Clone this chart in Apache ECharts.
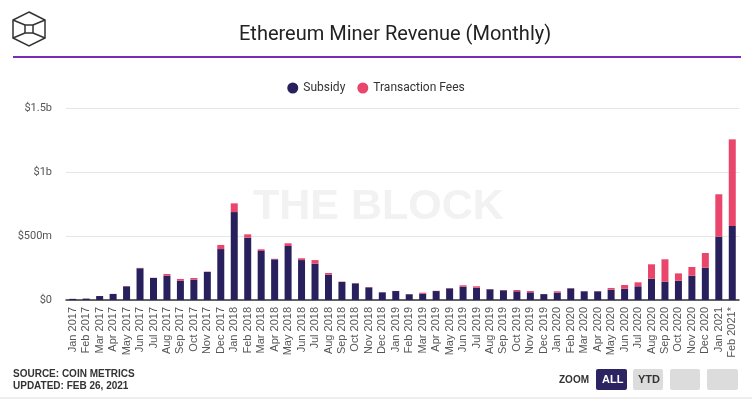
<!DOCTYPE html>
<html>
<head>
<meta charset="utf-8">
<script src="https://cdn.jsdelivr.net/npm/echarts@6/dist/echarts.min.js"></script>
<style>
  html, body { margin: 0; padding: 0; background: #fff; }
  #chart { width: 752px; height: 399px; }
</style>
</head>
<body>
<div id="chart"></div>
<script>
// months, values in $ millions
var months = [
  "Jan 2017", "Feb 2017", "Mar 2017", "Apr 2017", "May 2017", "Jun 2017",
  "Jul 2017", "Aug 2017", "Sep 2017", "Oct 2017", "Nov 2017", "Dec 2017",
  "Jan 2018", "Feb 2018", "Mar 2018", "Apr 2018", "May 2018", "Jun 2018",
  "Jul 2018", "Aug 2018", "Sep 2018", "Oct 2018", "Nov 2018", "Dec 2018",
  "Jan 2019", "Feb 2019", "Mar 2019", "Apr 2019", "May 2019", "Jun 2019",
  "Jul 2019", "Aug 2019", "Sep 2019", "Oct 2019", "Nov 2019", "Dec 2019",
  "Jan 2020", "Feb 2020", "Mar 2020", "Apr 2020", "May 2020", "Jun 2020",
  "Jul 2020", "Aug 2020", "Sep 2020", "Oct 2020", "Nov 2020", "Dec 2020",
  "Jan 2021", "Feb 2021*"
];
var subsidy = [
  9, 11, 31, 47, 107, 248, 172, 190, 151, 159, 219, 398,
  687, 487, 383, 318, 422, 312, 284, 198, 141, 130, 99, 60,
  70, 45, 49, 70, 91, 104, 96, 84, 76, 68, 60, 46,
  57, 91, 68, 68, 81, 88, 107, 166, 143, 151, 190, 252,
  495, 578
];
var fees = [
  0, 0, 0, 1, 2, 3, 2, 13, 13, 13, 3, 32,
  68, 26, 13, 4, 21, 14, 28, 13, 3, 2, 2, 1,
  1, 1, 8, 2, 2, 11, 11, 2, 2, 10, 10, 1,
  11, 2, 1, 2, 13, 29, 31, 113, 175, 57, 68, 115,
  331, 677
];
var yTicks = { 0: "$0", 500: "$500m", 1000: "$1b", 1500: "$1.5b" };

var chart = echarts.init(document.getElementById("chart"));

chart.setOption({
  animation: false,
  title: {
    text: "Ethereum Miner Revenue (Monthly)",
    left: 234,
    top: 20,
    textStyle: {
      fontFamily: "Roboto",
      fontWeight: "normal",
      fontSize: 20,
      color: "#222",
    },
  },
  legend: {
    top: 77,
    left: "center",
    icon: "circle",
    itemWidth: 11,
    itemHeight: 11,
    itemGap: 12,
    textStyle: {
      fontFamily: "Roboto",
      fontSize: 12,
      color: "#333",
    },
    data: ["Subsidy", "Transaction Fees"],
  },
  grid: {
    left: 66,
    right: 13,
    top: 108,
    bottom: 99,
  },
  graphic: [
    // logo
    {
      type: "polygon",
      shape: {
        points: [[29, 12], [45, 20], [45, 38], [29, 46], [13, 38], [13, 20]],
      },
      style: { fill: "none", stroke: "#333", lineWidth: 1.5 },
    },
    {
      type: "polygon",
      shape: {
        points: [[25, 25], [33, 25], [33, 33], [25, 33]],
      },
      style: { fill: "none", stroke: "#333", lineWidth: 1.5 },
    },
    {
      type: "polyline",
      shape: { points: [[13, 20], [25, 25]] },
      style: { stroke: "#333", lineWidth: 1.5 },
    },
    {
      type: "polyline",
      shape: { points: [[45, 20], [33, 25]] },
      style: { stroke: "#333", lineWidth: 1.5 },
    },
    {
      type: "polyline",
      shape: { points: [[13, 38], [25, 33]] },
      style: { stroke: "#333", lineWidth: 1.5 },
    },
    {
      type: "polyline",
      shape: { points: [[45, 38], [33, 33]] },
      style: { stroke: "#333", lineWidth: 1.5 },
    },
    // purple rule under title
    {
      type: "rect",
      shape: { x: 13, y: 56, width: 728, height: 2 },
      style: { fill: "#7b2cb3" },
    },
    // watermark
    {
      type: "text",
      left: 253,
      top: 186,
      z: 0,
      silent: true,
      style: {
        text: "THE BLOCK",
        fontFamily: "Liberation Sans",
        fontWeight: "bold",
        fontSize: 43,
        fill: "#f2f2f2",
      },
    },
    // source
    {
      type: "text",
      left: 13,
      top: 368,
      style: {
        text: "SOURCE: COIN METRICS\nUPDATED: FEB 26, 2021",
        fontFamily: "Liberation Sans",
        fontWeight: "bold",
        fontSize: 10,
        lineHeight: 12,
        fill: "#333",
      },
    },
    // zoom buttons
    {
      type: "text",
      left: 559,
      top: 375,
      style: {
        text: "ZOOM",
        fontFamily: "Liberation Sans",
        fontWeight: "bold",
        fontSize: 10,
        fill: "#333",
      },
    },
    {
      type: "rect",
      shape: { x: 596, y: 369, width: 31, height: 21, r: 2 },
      style: { fill: "#2b2362" },
    },
    {
      type: "text",
      left: 602,
      top: 374,
      style: {
        text: "ALL",
        fontFamily: "Liberation Sans",
        fontWeight: "bold",
        fontSize: 11,
        fill: "#fff",
      },
    },
    {
      type: "rect",
      shape: { x: 633, y: 369, width: 30, height: 21, r: 2 },
      style: { fill: "#dcdcdc" },
    },
    {
      type: "text",
      left: 638,
      top: 374,
      style: {
        text: "YTD",
        fontFamily: "Liberation Sans",
        fontWeight: "bold",
        fontSize: 11,
        fill: "#333",
      },
    },
    {
      type: "rect",
      shape: { x: 670, y: 369, width: 30, height: 21, r: 2 },
      style: { fill: "#dcdcdc" },
    },
    {
      type: "rect",
      shape: { x: 707, y: 369, width: 31, height: 21, r: 2 },
      style: { fill: "#dcdcdc" },
    },
    // bottom rule
    {
      type: "rect",
      shape: { x: 0, y: 397, width: 752, height: 2 },
      style: { fill: "#eeeeee" },
    },
  ],
  xAxis: {
    type: "category",
    data: months,
    axisTick: { show: false },
    axisLine: {
      lineStyle: { color: "#333", width: 1.5 },
    },
    axisLabel: {
      interval: 0,
      rotate: 90,
      margin: 7,
      fontFamily: "Liberation Sans",
      fontSize: 11,
      color: "#555",
    },
  },
  yAxis: {
    type: "value",
    min: 0,
    max: 1500,
    interval: 500,
    axisLine: { show: false },
    axisTick: { show: false },
    splitLine: {
      lineStyle: { color: "#e6e6e6" },
    },
    axisLabel: {
      margin: 14,
      fontFamily: "Roboto",
      fontSize: 11,
      color: "#555",
      formatter: function (v) {
        return yTicks[v] || "";
      },
    },
  },
  series: [
    {
      name: "Subsidy",
      type: "bar",
      stack: "rev",
      barWidth: 7,
      itemStyle: { color: "#28205c" },
      data: subsidy,
    },
    {
      name: "Transaction Fees",
      type: "bar",
      stack: "rev",
      barWidth: 7,
      itemStyle: { color: "#ea456b" },
      data: fees,
    },
  ],
});
</script>
</body>
</html>
